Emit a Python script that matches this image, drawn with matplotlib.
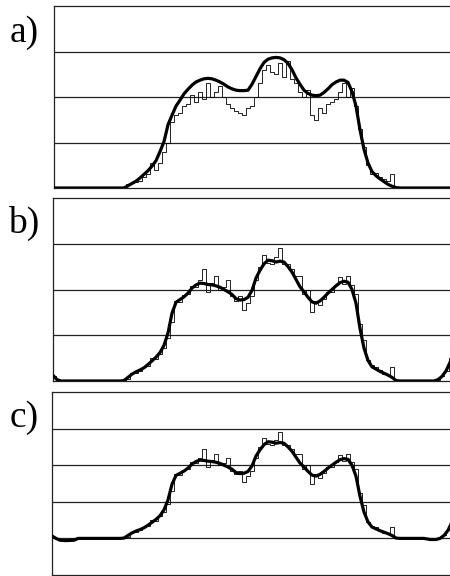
import numpy as np
import matplotlib
matplotlib.use("Agg")
from matplotlib import pyplot as plt

# channel positions of the sampled middle part (same for every panel)
x_main = np.arange(120, 401, 4)

# a) smooth fit and raw measurement
fit_a = [0, 0.0, 0.05, 0.1, 0.15, 0.22, 0.3, 0.38, 0.48, 0.6,
         0.8, 1.02, 1.39, 1.6, 1.8, 1.93, 2.07, 2.17, 2.26, 2.33,
         2.37, 2.4, 2.41, 2.4, 2.37, 2.33, 2.28, 2.22, 2.18, 2.15,
         2.14, 2.14, 2.15, 2.28, 2.45, 2.62, 2.76, 2.83, 2.86, 2.87,
         2.86, 2.82, 2.74, 2.6, 2.42, 2.28, 2.15, 2.08, 2.04, 2.03,
         2.04, 2.1, 2.18, 2.27, 2.33, 2.37, 2.37, 2.32, 2.12, 1.8,
         1.28, 0.85, 0.55, 0.36, 0.27, 0.2, 0.14, 0.08, 0.04, 0.01, 0]
raw_a = [0, 0.02, 0.08, 0.1, 0.14, 0.15, 0.25, 0.3, 0.55, 0.4,
         0.55, 0.8, 1.0, 1.45, 1.6, 1.65, 1.8, 1.85, 2.05, 1.9,
         2.1, 1.95, 2.3, 2.0, 2.1, 2.25, 2.0, 1.85, 1.75, 1.7,
         1.65, 1.6, 1.75, 1.8, 2.0, 2.3, 2.6, 2.7, 2.55, 2.5,
         2.75, 2.45, 2.8, 2.4, 2.3, 2.1, 2.0, 2.15, 1.6, 1.5,
         1.75, 1.65, 1.85, 1.9, 1.95, 2.1, 2.3, 2.0, 2.2, 1.8,
         1.3, 0.9, 0.5, 0.3, 0.32, 0.25, 0.2, 0.15, 0.3, 0.0, 0]

# b) and c) share the same middle part
fit_bc = [0, 0.01, 0.08, 0.15, 0.2, 0.24, 0.29, 0.36, 0.44, 0.52,
          0.62, 0.78, 1.05, 1.48, 1.72, 1.78, 1.84, 1.92, 2.03, 2.1,
          2.14, 2.13, 2.11, 2.1, 2.08, 2.05, 2.0, 1.95, 1.89, 1.8,
          1.77, 1.78, 1.83, 1.98, 2.25, 2.42, 2.56, 2.64, 2.63, 2.6,
          2.62, 2.6, 2.5, 2.38, 2.22, 2.06, 1.95, 1.83, 1.73, 1.7,
          1.75, 1.83, 1.92, 2.0, 2.08, 2.15, 2.18, 2.16, 2.0, 1.7,
          1.15, 0.72, 0.45, 0.31, 0.26, 0.21, 0.17, 0.13, 0.08, 0.01, 0]
raw_bc = [0, 0, 0.05, 0.18, 0.17, 0.22, 0.3, 0.33, 0.5, 0.48,
          0.6, 0.72, 0.95, 1.3, 1.75, 1.72, 1.88, 1.9, 2.08, 2.05,
          2.2, 2.45, 1.95, 2.15, 2.3, 2.0, 2.05, 2.2, 1.85, 1.75,
          1.85, 1.55, 1.7, 1.85, 2.2, 2.5, 2.75, 2.58, 2.55, 2.7,
          2.9, 2.55, 2.55, 2.45, 2.3, 2.3, 1.9, 2.0, 1.5, 1.75,
          1.66, 1.8, 1.95, 1.95, 2.1, 2.28, 2.12, 2.3, 2.1, 1.9,
          1.25, 0.9, 0.45, 0.35, 0.3, 0.24, 0.15, 0.14, 0.3, 0.0, 0]

# ends of each curve
left_x_a, left_a = [54, 116], [0, 0]
right_x_a, right_a = [404, 452], [0, 0]
left_x_b, left_b = [54, 57, 61, 116], [0.1, 0.03, 0, 0]
right_x_b, right_b = [404, 434, 438, 442, 446, 452], [0, 0, 0.03, 0.1, 0.22, 0.5]
left_x_c, left_c = [53, 56, 60, 66, 74, 78, 116], [0.05, 0.0, -0.05, -0.06, -0.05, 0, 0]
right_x_c, right_c = [404, 424, 430, 436, 440, 444, 448, 452], [0, 0, -0.03, -0.03, 0, 0.08, 0.22, 0.45]

labels = ["a)", "b)", "c)"]

W, H = 450, 576
fig = plt.figure(figsize=(W / 100, H / 100), dpi=100)

# panel boxes in pixels: left, top, bottom
boxes = [(54, 6, 188), (53, 198, 381), (52, 392, 575)]
ylims = [(0, 4), (0, 4), (-1, 4)]
grids = [[1, 2, 3], [1, 2, 3], [0, 1, 2, 3]]
label_pos = [(10, 42), (8, 233), (10, 427)]

panels = [
    (fit_a, raw_a, left_x_a, left_a, right_x_a, right_a),
    (fit_bc, raw_bc, left_x_b, left_b, right_x_b, right_b),
    (fit_bc, raw_bc, left_x_c, left_c, right_x_c, right_c),
]

for i, (fit, raw, lx, lv, rx, rv) in enumerate(panels):
    left, top, bottom = boxes[i]
    ax = fig.add_axes([left / W, 1 - bottom / H, (W - left) / W, (bottom - top) / H])
    ax.set_xlim(left, W)
    ax.set_ylim(*ylims[i])
    for g in grids[i]:
        ax.axhline(g, color="#222222", lw=0.9, zorder=1)
    xs = np.concatenate([lx, x_main, rx])
    ax.plot(xs, np.concatenate([lv, raw, rv]), color="black", lw=0.6,
            drawstyle="steps-mid", zorder=2)
    ax.plot(xs, np.concatenate([lv, fit, rv]), color="black", lw=2.3,
            solid_joinstyle="round", zorder=3)
    ax.set_xticks([])
    ax.set_yticks([])
    ax.spines["right"].set_visible(False)
    for s in ["top", "left", "bottom"]:
        ax.spines[s].set_linewidth(0.9)
        ax.spines[s].set_color("#222222")
    lx_px, ly_px = label_pos[i]
    fig.text(lx_px / W, 1 - ly_px / H, labels[i], family="Liberation Serif",
             fontsize=27, ha="left", va="baseline")

fig.savefig("out.png", dpi=100)
